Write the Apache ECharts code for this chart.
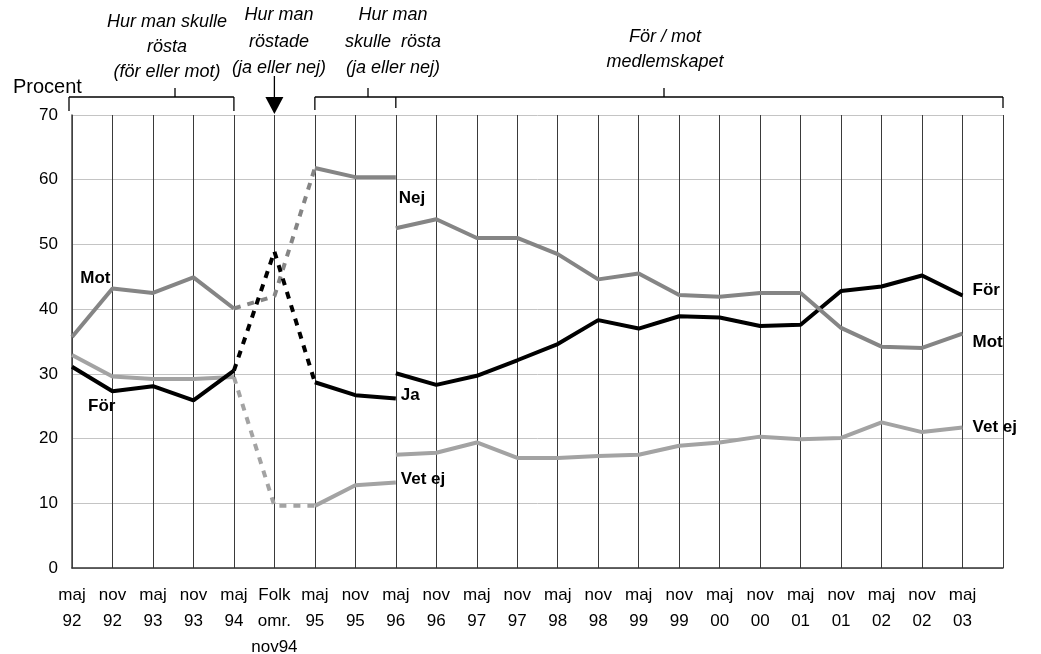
<!DOCTYPE html>
<html>
<head>
<meta charset="utf-8">
<script src="https://cdn.jsdelivr.net/npm/echarts@6/dist/echarts.min.js"></script>
<style>
html,body{margin:0;padding:0;background:#fff;}
#c{width:1041px;height:654px;}
</style>
</head>
<body>
<div id="c"></div>
<script>
// Categories (last one empty, to close the plot frame)
const categories = ['maj\n92','nov\n92','maj\n93','nov\n93','maj\n94','Folk\nomr.\nnov94','maj\n95','nov\n95','maj\n96','nov\n96','maj\n97','nov\n97','maj\n98','nov\n98','maj\n99','nov\n99','maj\n00','nov\n00','maj\n01','nov\n01','maj\n02','nov\n02','maj\n03',''];
const yTicks = [0,10,20,30,40,50,60,70];

// 1992-1994: för / mot / vet ej
const forA   = [31.1,27.3,28.1,25.9,30.5];
const motA   = [35.7,43.2,42.5,44.9,40.1];
const vetA   = [32.9,29.6,29.2,29.2,29.5];
// maj 94 -> Folkomröstning -> maj 95 (dashed)
const jaRef  = [30.5,48.9,28.7];
const nejRef = [40.1,42.0,61.8];
const vetRef = [29.5,9.6,9.6];
// maj 95 - maj 96: ja / nej / vet ej
const jaB    = [28.7,26.7,26.2];
const nejB   = [61.8,60.4,60.4];
const vetB   = [9.6,12.8,13.2];
// maj 96 - maj 03: för / mot / vet ej (medlemskapet)
const forC   = [30.1,28.3,29.7,32.1,34.6,38.3,37.0,38.9,38.7,37.4,37.6,42.8,43.5,45.2,42.1];
const motC   = [52.5,53.9,51.0,51.0,48.5,44.6,45.5,42.2,41.9,42.5,42.5,37.1,34.2,34.0,36.2];
const vetC   = [17.5,17.8,19.4,17.0,17.0,17.3,17.5,18.9,19.4,20.3,19.9,20.1,22.5,21.0,21.7];

function place(arr, start){
  const out = new Array(categories.length).fill(null);
  arr.forEach((v,i)=>{ out[start+i] = v; });
  return out;
}

const BLACK = '#000000', GRAY = '#858585', LIGHT = '#a3a3a3';
const FONT = "'Liberation Sans', Arial, sans-serif";

function ser(name, data, color, dashed){
  return {
    name, type:'line', data, showSymbol:false, connectNulls:false, silent:true,
    lineStyle:{color, width:4, type: dashed ? [7,7] : 'solid', cap:'butt'},
    itemStyle:{color}
  };
}

const chart = echarts.init(document.getElementById('c'));
chart.setOption({
  animation:false,
  backgroundColor:'#fff',
  grid:{left:72, right:38, top:115, bottom:86, containLabel:false, outerBoundsMode:'none'},
  xAxis:{
    type:'category', data:categories, boundaryGap:false,
    axisLine:{show:true, lineStyle:{color:'#333', width:1.5}},
    axisTick:{show:false},
    axisLabel:{interval:0, color:'#000', fontFamily:FONT, fontSize:17, lineHeight:26, margin:14},
    splitLine:{show:true, lineStyle:{color:'#3a3a3a', width:1}}
  },
  yAxis:{
    type:'value', min:0, max:70, interval:10,
    axisLine:{show:true, lineStyle:{color:'#444', width:1.5}},
    axisTick:{show:false},
    axisLabel:{color:'#000', fontFamily:FONT, fontSize:17, margin:14,
      formatter: v => yTicks.includes(v) ? String(v) : ''},
    splitLine:{show:true, lineStyle:{color:'#c4c4c4', width:1}}
  },
  series:[
    ser('Mot A', place(motA,0), GRAY),
    ser('Vet A', place(vetA,0), LIGHT),
    ser('För A', place(forA,0), BLACK),
    ser('Nej ref', place(nejRef,4), GRAY, true),
    ser('Vet ref', place(vetRef,4), LIGHT, true),
    ser('Ja ref', place(jaRef,4), BLACK, true),
    ser('Nej B', place(nejB,6), GRAY),
    ser('Vet B', place(vetB,6), LIGHT),
    ser('Ja B', place(jaB,6), BLACK),
    ser('För C', place(forC,8), BLACK),
    ser('Mot C', place(motC,8), GRAY),
    ser('Vet C', place(vetC,8), LIGHT)
  ]
});

function px(i, v){ return chart.convertToPixel({gridIndex:0}, [i, v]); }
function xOf(i){ return px(i,0)[0]; }

const g = [];
function label(text, i, v, dx, dy, align){
  const p = px(i, v);
  g.push({type:'text', x:p[0]+dx, y:p[1]+dy, silent:true,
    style:{text, fill:'#000', font:"bold 17px "+FONT, align:align||'left', verticalAlign:'middle'}});
}
label('Mot', 1, motA[1], -2, -10, 'right');
label('För', 1, forA[1], 3, 15, 'right');
label('Nej', 8, nejB[2], 3, 21);
label('Ja', 8, jaB[2], 5, -3);
label('Vet ej', 8, vetB[2], 5, -3);
label('För', 22, forC[14], 10, -5);
label('Mot', 22, motC[14], 10, 9);
label('Vet ej', 22, vetC[14], 10, 0);

// "Procent"
g.push({type:'text', x:13, y:87, silent:true,
  style:{text:'Procent', fill:'#000', font:"20px "+FONT, verticalAlign:'middle'}});

// Annotation texts
function ann(lines, cx, y0, step){
  lines.forEach((t,k)=>{
    g.push({type:'text', x:cx, y:y0+k*step, silent:true,
      style:{text:t, fill:'#000', font:"italic 18px "+FONT, align:'center', verticalAlign:'middle'}});
  });
}
ann(['Hur man skulle','rösta','(för eller mot)'], 167, 22, 25);
ann(['Hur man','röstade','(ja eller nej)'], 279, 15, 26.5);
ann(['Hur man','skulle  rösta','(ja eller nej)'], 393, 15, 26.5);
ann(['För / mot','medlemskapet'], 665, 37, 25);

// Brackets
const LS = {stroke:'#000', lineWidth:1.3};
function ln(x1,y1,x2,y2){ g.push({type:'line', silent:true, shape:{x1,y1,x2,y2}, style:LS}); }
const by = 97;
const xa = xOf(0)-3, xb = xOf(4), xc = xOf(6), xd = xOf(8), xe = xOf(23);
ln(xa,by,xb,by); ln(xa,by,xa,111); ln(xb,by,xb,111); ln(175,by,175,88);
ln(xc,by,xe,by); ln(xc,by,xc,110); ln(xd,by,xd,108); ln(xe,by,xe,108);
ln(368,by,368,88); ln(664,by,664,88);
// Arrow at the referendum
const xf = xOf(5);
ln(xf,76,xf,100);
g.push({type:'polygon', silent:true, shape:{points:[[xf-9,97],[xf+9,97],[xf,114]]}, style:{fill:'#000'}});

chart.setOption({graphic:g});
</script>
</body>
</html>
